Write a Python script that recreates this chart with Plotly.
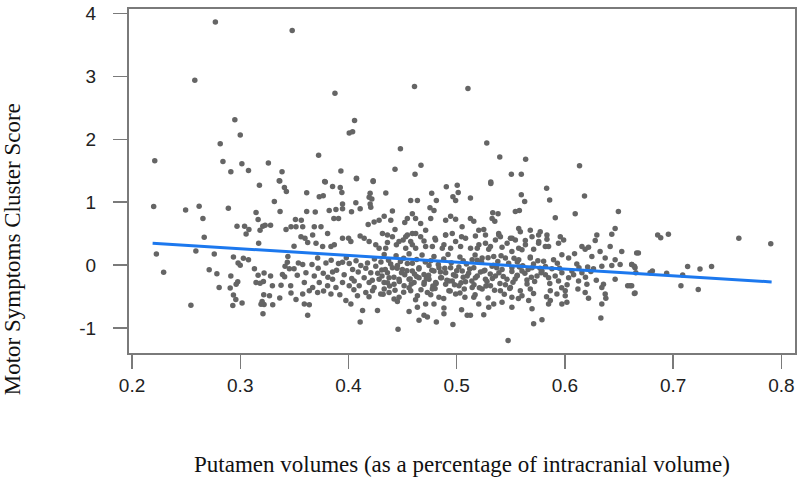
import plotly.graph_objects as go

# ---- data (x = putamen volume %, y = motor score) ----
outliers_high = [
    (0.277, 3.865), (0.348, 3.73), (0.258, 2.94), (0.295, 2.31), (0.300, 2.07),
    (0.2815, 1.93), (0.221, 1.66), (0.284, 1.646), (0.3015, 1.61), (0.2913, 1.484),
    (0.3076, 1.505), (0.326, 1.625), (0.3386, 1.484), (0.336, 1.34),
    (0.461, 2.84), (0.3875, 2.73), (0.5104, 2.807), (0.4056, 2.30), (0.4007, 2.10),
    (0.4038, 2.12), (0.3724, 1.745), (0.448, 1.85), (0.393, 1.495), (0.443, 1.526),
    (0.467, 1.589), (0.4615, 1.443), (0.4074, 1.38), (0.378, 1.328), (0.4228, 1.34),
    (0.5278, 1.94), (0.5398, 1.719), (0.5637, 1.682), (0.6135, 1.578), (0.5505, 1.443),
    (0.5597, 1.443), (0.5315, 1.323),
]

left_group = [
    (0.220, 0.932), (0.2495, 0.875), (0.262, 0.937), (0.289, 0.906), (0.2655, 0.74),
    (0.3177, 1.271), (0.3365, 1.339), (0.3408, 1.234), (0.3426, 1.172), (0.3315, 1.010),
    (0.3368, 0.854), (0.3146, 0.838), (0.3165, 0.724), (0.297, 0.62), (0.304, 0.62),
    (0.308, 0.568), (0.3054, 0.495), (0.3183, 0.557), (0.3208, 0.62), (0.323, 0.635),
    (0.328, 0.635), (0.351, 0.724), (0.3423, 0.568), (0.3469, 0.609), (0.3515, 0.609),
    (0.2667, 0.443), (0.317, 0.349), (0.3497, 0.302), (0.2225, 0.177), (0.259, 0.224),
    (0.276, 0.177), (0.2937, 0.130), (0.298, 0.036), (0.300, 0.0), (0.3029, 0.109),
    (0.3076, 0.088), (0.344, 0.14), (0.3435, 0.047), (0.3414, -0.016), (0.3454, -0.057),
    (0.3497, -0.057), (0.3537, 0.036), (0.2292, -0.114), (0.2713, -0.073), (0.2784, -0.135),
    (0.3131, -0.057), (0.3165, -0.161), (0.322, -0.125), (0.328, -0.172), (0.2913, -0.172),
    (0.339, -0.146), (0.341, -0.182), (0.3527, -0.161), (0.2977, -0.265), (0.2962, -0.302),
    (0.2805, -0.354), (0.2907, -0.364), (0.3146, -0.276), (0.3183, -0.286), (0.3214, -0.26),
    (0.3297, -0.328), (0.3377, -0.318), (0.3466, -0.328), (0.3469, -0.443), (0.2937, -0.474),
    (0.2959, -0.547), (0.3017, -0.599), (0.2931, -0.641), (0.3365, -0.521), (0.3217, -0.469),
    (0.327, -0.484), (0.3202, -0.578), (0.322, -0.625), (0.3192, -0.620), (0.330, -0.630),
    (0.3515, -0.547), (0.2544, -0.635), (0.321, -0.771),
]

center_left = [
    (0.3786, 1.323), (0.3853, 1.25), (0.3924, 1.234), (0.3939, 1.156), (0.4074, 1.375),
    (0.4228, 1.328), (0.4345, 1.146), (0.420, 1.141), (0.4191, 1.078), (0.4216, 1.052),
    (0.3614, 1.151), (0.373, 1.089), (0.3767, 1.104), (0.3614, 0.854), (0.3693, 0.844),
    (0.3822, 0.87), (0.3884, 0.885), (0.3945, 0.974), (0.3945, 0.896), (0.3865, 0.74),
    (0.3908, 0.74), (0.4028, 0.849), (0.4068, 0.99), (0.4108, 0.896), (0.4206, 0.922),
    (0.420, 0.974), (0.4406, 0.859), (0.4575, 1.026), (0.4637, 1.026), (0.4769, 1.141),
    (0.4812, 1.026), (0.4904, 1.245), (0.5005, 1.271), (0.5014, 1.156), (0.4965, 1.089),
    (0.499, 1.026), (0.4753, 0.911), (0.479, 0.87), (0.4898, 0.714), (0.4944, 0.776),
    (0.499, 0.729), (0.505, 0.609), (0.4283, 0.714), (0.4237, 0.687), (0.4182, 0.646),
    (0.433, 0.776), (0.4391, 0.714), (0.452, 0.677), (0.4544, 0.74), (0.459, 0.818),
    (0.462, 0.74), (0.4667, 0.661), (0.476, 0.74), (0.4713, 0.557), (0.3564, 0.714),
    (0.3577, 0.609), (0.3684, 0.609), (0.3746, 0.609), (0.3669, 0.479), (0.3807, 0.505),
    (0.3945, 0.427), (0.4001, 0.427), (0.4022, 0.375), (0.4108, 0.464), (0.4145, 0.427),
    (0.4191, 0.375), (0.4252, 0.323), (0.4360, 0.479), (0.443, 0.568), (0.4529, 0.453),
    (0.459, 0.505), (0.4505, 0.401), (0.4575, 0.375), (0.436, 0.359), (0.4443, 0.323),
    (0.4283, 0.271), (0.4898, 0.479), (0.4959, 0.505), (0.5045, 0.453), (0.4799, 0.427),
    (0.4698, 0.385), (0.4775, 0.297), (0.3623, 0.359), (0.370, 0.349), (0.3761, 0.297),
    (0.3838, 0.297), (0.3869, 0.323), (0.3561, 0.453), (0.3598, 0.427), (0.4882, 0.323),
    (0.4944, 0.271), (0.4621, 0.271),
    (0.3577, 0.010), (0.3663, 0.01), (0.3715, 0.115), (0.3792, 0.036), (0.3607, -0.12),
    (0.3684, -0.172), (0.3767, -0.13), (0.3853, -0.109), (0.3908, 0.026), (0.3945, 0.047),
    (0.4007, 0.026), (0.4038, -0.068), (0.4114, -0.005), (0.4176, 0.036), (0.4206, -0.12),
    (0.4252, -0.016), (0.4308, -0.078), (0.436, -0.12), (0.4406, -0.042), (0.4452, -0.005),
    (0.4498, -0.068), (0.4544, 0.026), (0.459, -0.094), (0.4652, -0.042), (0.4698, -0.146),
    (0.4744, -0.005), (0.479, -0.094), (0.4836, -0.042), (0.4898, -0.12), (0.4944, -0.042),
    (0.499, -0.172), (0.5051, -0.094), (0.5097, -0.172), (0.3592, -0.276), (0.3669, -0.354),
    (0.373, -0.276), (0.3807, -0.328), (0.3853, -0.224), (0.3884, -0.354), (0.3945, -0.276),
    (0.4007, -0.328), (0.4053, -0.25), (0.4099, -0.328), (0.4145, -0.198), (0.4191, -0.276),
    (0.4237, -0.354), (0.4283, -0.224), (0.4329, -0.276), (0.4375, -0.198), (0.4421, -0.302),
    (0.4467, -0.224), (0.4514, -0.328), (0.456, -0.224), (0.4606, -0.276), (0.4652, -0.198),
    (0.4698, -0.302), (0.4744, -0.224), (0.4806, -0.276), (0.4852, -0.198), (0.4898, -0.302),
    (0.4959, -0.25), (0.5021, -0.328), (0.5082, -0.265), (0.3577, -0.458), (0.3638, -0.406),
    (0.3715, -0.432), (0.3838, -0.458), (0.3976, -0.562), (0.4022, -0.615), (0.4083, -0.484),
    (0.416, -0.432), (0.4222, -0.406), (0.4298, -0.458), (0.4375, -0.432), (0.4421, -0.536),
    (0.4452, -0.578), (0.4467, -0.51), (0.4575, -0.406), (0.4637, -0.484), (0.4729, -0.432),
    (0.4775, -0.38), (0.4836, -0.51), (0.4928, -0.406), (0.499, -0.458), (0.5076, -0.51),
    (0.3592, -0.615), (0.3638, -0.63), (0.3623, -0.797), (0.413, -0.719), (0.4268, -0.719),
    (0.4108, -0.901), (0.456, -0.734), (0.4637, -0.667), (0.4713, -0.615), (0.479, -0.615),
    (0.4698, -0.797), (0.4652, -0.875), (0.4729, -0.823), (0.4812, -0.901), (0.4882, -0.682),
    (0.4882, -0.771), (0.4965, -0.943), (0.5045, -0.708), (0.4458, -1.016), (0.5097, -0.797),
]

center_right = [
    (0.5315, 1.297), (0.5831, 1.224), (0.5597, 1.12), (0.5628, 1.01), (0.5859, 1.036),
    (0.6181, 1.099), (0.5127, 1.068), (0.6494, 0.854), (0.6095, 0.818), (0.5911, 0.755),
    (0.5542, 0.854), (0.5579, 0.87), (0.5333, 0.833), (0.5382, 0.818), (0.5327, 0.74),
    (0.5352, 0.698), (0.5127, 0.74), (0.5158, 0.698), (0.6464, 0.583), (0.6433, 0.49),
    (0.6295, 0.479), (0.628, 0.391), (0.5204, 0.557), (0.525, 0.568), (0.5173, 0.464),
    (0.5388, 0.505), (0.5404, 0.453), (0.5496, 0.427), (0.5573, 0.583), (0.5588, 0.531),
    (0.5680, 0.557), (0.5772, 0.531), (0.5757, 0.479), (0.5634, 0.391), (0.5542, 0.401),
    (0.5834, 0.411), (0.5957, 0.453), (0.5988, 0.401), (0.5941, 0.349), (0.5757, 0.349),
    (0.5266, 0.349), (0.519, 0.271), (0.5296, 0.255), (0.5419, 0.286), (0.551, 0.219),
    (0.5603, 0.245), (0.5711, 0.255), (0.5849, 0.297), (0.6157, 0.297), (0.6187, 0.255),
    (0.6218, 0.286), (0.6418, 0.297), (0.6525, 0.219), (0.6663, 0.193), (0.6325, 0.219),
    (0.6089, 0.182), (0.5972, 0.167), (0.6034, 0.115), (0.6249, 0.14), (0.6372, 0.115),
    (0.6464, 0.088), (0.5143, 0.088), (0.5235, 0.115), (0.5342, 0.14), (0.545, 0.115),
    (0.5573, 0.088), (0.568, 0.115), (0.5803, 0.062), (0.5895, 0.088), (0.5158, -0.042),
    (0.525, -0.094), (0.5327, -0.016), (0.5419, -0.068), (0.551, -0.042), (0.5603, -0.094),
    (0.5696, -0.042), (0.5788, -0.094), (0.5880, -0.057), (0.5972, -0.12), (0.6064, -0.094),
    (0.6157, -0.12), (0.6264, -0.057), (0.6341, -0.016), (0.6433, -0.005), (0.651, 0.01),
    (0.6617, 0.01), (0.6648, -0.042), (0.5173, -0.198), (0.5266, -0.224), (0.5358, -0.172),
    (0.5465, -0.224), (0.5557, -0.172), (0.5649, -0.234), (0.5742, -0.172), (0.5849, -0.198),
    (0.5941, -0.25), (0.6034, -0.198), (0.6126, -0.25), (0.6203, -0.302), (0.6356, -0.302),
    (0.6464, -0.224), (0.658, -0.328), (0.6617, -0.328), (0.6648, -0.443), (0.5143, -0.354),
    (0.5235, -0.38), (0.5312, -0.328), (0.5404, -0.406), (0.5496, -0.354), (0.5588, -0.406),
    (0.568, -0.38), (0.5865, -0.406), (0.5926, -0.458), (0.6003, -0.406), (0.6341, -0.354),
    (0.6372, -0.458), (0.6187, -0.432), (0.6218, -0.526), (0.5158, -0.51), (0.5204, -0.615),
    (0.5296, -0.667), (0.5342, -0.615), (0.5419, -0.589), (0.551, -0.51), (0.551, -0.667),
    (0.5665, -0.562), (0.5603, -0.484), (0.5849, -0.615), (0.5865, -0.562), (0.5972, -0.615),
    (0.6018, -0.589), (0.6003, -0.484), (0.5696, -0.693), (0.6341, -0.615), (0.6378, -0.526),
    (0.525, -0.786), (0.5127, -0.797), (0.5711, -0.932), (0.5788, -0.865), (0.6332, -0.839),
    (0.5475, -1.198),
]

right_tail = [
    (0.6857, 0.479), (0.6885, 0.437), (0.6956, 0.49), (0.7607, 0.427), (0.7902, 0.339),
    (0.6679, 0.193), (0.6618, 0.01), (0.6642, -0.016), (0.6655, -0.12), (0.6787, -0.12),
    (0.6808, -0.094), (0.694, -0.13), (0.7134, -0.021), (0.7248, -0.062), (0.7355, -0.021),
    (0.7088, -0.156), (0.7072, -0.328), (0.7232, -0.385), (0.6602, -0.328), (0.6642, -0.448),
]

dense_core = [
    (0.4314, 0.505), (0.4406, 0.453), (0.4467, 0.375), (0.4544, 0.479), (0.4621, 0.505),
    (0.4667, 0.453), (0.4713, 0.297), (0.4805, 0.401), (0.4867, 0.271), (0.4897, 0.479),
    (0.499, 0.375), (0.5036, 0.297), (0.5082, 0.427), (0.5128, 0.271), (0.5205, 0.323),
    (0.5266, 0.479), (0.5312, 0.297), (0.5358, 0.401), (0.5389, 0.479), (0.5466, 0.349),
    (0.5512, 0.427), (0.5573, 0.271), (0.5635, 0.323), (0.5696, 0.453), (0.5758, 0.375),
    (0.5819, 0.297), (0.5834, 0.479), (0.4344, 0.271), (0.4529, 0.271), (0.459, 0.323),
    (0.433, 0.17), (0.444, 0.15), (0.456, 0.18), (0.468, 0.16), (0.479, 0.14),
    (0.492, 0.17), (0.503, 0.13), (0.517, 0.16), (0.529, 0.12), (0.541, 0.15),
    (0.553, 0.11), (0.568, 0.13), (0.430, 0.05), (0.439, 0.02), (0.448, 0.06),
    (0.459, 0.03), (0.471, 0.05), (0.483, 0.01), (0.495, 0.04), (0.509, 0.02),
    (0.523, 0.05), (0.534, 0.00), (0.548, 0.03), (0.561, -0.01), (0.571, 0.02),
    (0.582, -0.02), (0.434, -0.07), (0.445, -0.05), (0.454, -0.09), (0.465, -0.06),
    (0.477, -0.08), (0.489, -0.05), (0.500, -0.09), (0.512, -0.06), (0.526, -0.08),
    (0.537, -0.04), (0.551, -0.10), (0.566, -0.07), (0.577, -0.05), (0.431, -0.17),
    (0.442, -0.19), (0.452, -0.15), (0.463, -0.18), (0.474, -0.16), (0.486, -0.20),
    (0.497, -0.15), (0.506, -0.19), (0.519, -0.17), (0.531, -0.14), (0.543, -0.18),
    (0.556, -0.16), (0.569, -0.19), (0.582, -0.15), (0.436, -0.28), (0.447, -0.26),
    (0.458, -0.30), (0.470, -0.27), (0.481, -0.29), (0.493, -0.25), (0.504, -0.28),
    (0.516, -0.31), (0.528, -0.26), (0.540, -0.29), (0.552, -0.27), (0.565, -0.30),
    (0.433, -0.38), (0.443, -0.40), (0.456, -0.36), (0.467, -0.39), (0.480, -0.37),
    (0.494, -0.41), (0.507, -0.38), (0.521, -0.36), (0.535, -0.40), (0.549, -0.37),
]

dense_band = [
    (0.372, -0.05), (0.381, -0.19), (0.389, -0.08), (0.396, -0.15), (0.403, -0.21),
    (0.409, -0.11), (0.416, -0.05), (0.422, -0.24), (0.427, -0.13), (0.438, -0.33),
    (0.449, -0.12), (0.457, -0.22), (0.461, -0.14), (0.472, -0.21), (0.478, -0.33),
    (0.485, -0.11), (0.491, -0.24), (0.498, -0.31), (0.502, -0.03), (0.511, -0.13),
    (0.514, -0.25), (0.522, -0.11), (0.527, -0.33), (0.533, -0.21), (0.539, -0.12),
    (0.545, -0.31), (0.554, -0.22), (0.558, -0.03), (0.563, -0.13), (0.572, -0.26),
    (0.578, -0.12), (0.586, -0.29), (0.591, -0.17), (0.595, -0.05), (0.602, -0.31),
    (0.608, -0.15), (0.613, -0.04), (0.619, -0.19), (0.624, -0.10), (0.629, -0.24),
    (0.377, -0.41), (0.392, -0.47), (0.405, -0.39), (0.419, -0.50), (0.432, -0.46),
    (0.451, -0.43), (0.462, -0.55), (0.476, -0.47), (0.488, -0.53), (0.503, -0.44),
    (0.517, -0.47), (0.529, -0.52), (0.544, -0.46), (0.557, -0.53), (0.571, -0.45),
    (0.583, -0.50), (0.597, -0.36), (0.612, -0.38),
    (0.384, 0.08), (0.398, 0.12), (0.407, 0.07), (0.424, 0.10), (0.437, 0.08),
    (0.451, 0.11), (0.463, 0.09), (0.476, 0.07), (0.488, 0.10), (0.506, 0.07),
    (0.519, 0.08), (0.538, 0.06), (0.556, 0.05), (0.575, 0.07), (0.593, 0.03),
    (0.611, 0.02), (0.621, -0.03),
]

# fitted regression line (end points)
fit_x = [0.219, 0.791]
fit_y = [0.35, -0.266]

x_ticks = [0.2, 0.3, 0.4, 0.5, 0.6, 0.7, 0.8]
y_ticks = [-1, 0, 1, 2, 3, 4]

x_title = "Putamen volumes (as a percentage of intracranial volume)"
y_title = "Motor Symptoms Cluster Score"

# ---- build figure ----
points = (outliers_high + left_group + center_left + center_right
          + right_tail + dense_core + dense_band)
px = [p[0] for p in points]
py = [p[1] for p in points]

fig = go.Figure()
fig.add_trace(go.Scatter(
    x=px, y=py, mode="markers",
    marker=dict(size=5.5, color="#656565", line=dict(width=0)),
    showlegend=False, hoverinfo="x+y",
))
fig.add_trace(go.Scatter(
    x=fit_x, y=fit_y, mode="lines",
    line=dict(color="#1C78EE", width=3),
    showlegend=False,
))

axis_common = dict(
    showline=True, linecolor="#7a7a7a", linewidth=2, mirror=True,
    ticks="outside", ticklen=14, tickwidth=1.5, tickcolor="#7a7a7a",
    showgrid=False, zeroline=False, ticklabeloverflow="allow",
    tickfont=dict(family="Liberation Sans, Arial, sans-serif", size=19, color="#222222"),
)

fig.update_xaxes(range=[0.1972, 0.8126], tickvals=x_ticks,
                 ticktext=[f"{v:.1f}" for v in x_ticks], **axis_common)
fig.update_yaxes(range=[-1.395, 4.07], tickvals=y_ticks,
                 ticktext=[str(v) for v in y_ticks], ticklabelstandoff=13, **axis_common)

title_font = dict(family="Liberation Serif, Times New Roman, serif", size=23, color="#111111")

fig.update_layout(
    width=800, height=489,
    margin=dict(l=129, r=3, t=3, b=136),
    plot_bgcolor="white", paper_bgcolor="white",
    annotations=[
        dict(text=x_title, xref="paper", yref="paper", x=0.5, y=-0.323,
             xanchor="center", yanchor="middle", showarrow=False, font=title_font),
        dict(text=y_title, xref="paper", yref="paper", x=-0.175, y=0.303,
             xanchor="center", yanchor="middle", showarrow=False, textangle=-90,
             font=title_font),
    ],
)

# remove the browser's default page margin so the 800x489 figure fills the window
fig.write_html(
    "out.html",
    config={"displayModeBar": False, "staticPlot": True},
    post_script="document.body.style.margin='0';document.body.style.padding='0';"
                "document.documentElement.style.overflow='hidden';",
)
